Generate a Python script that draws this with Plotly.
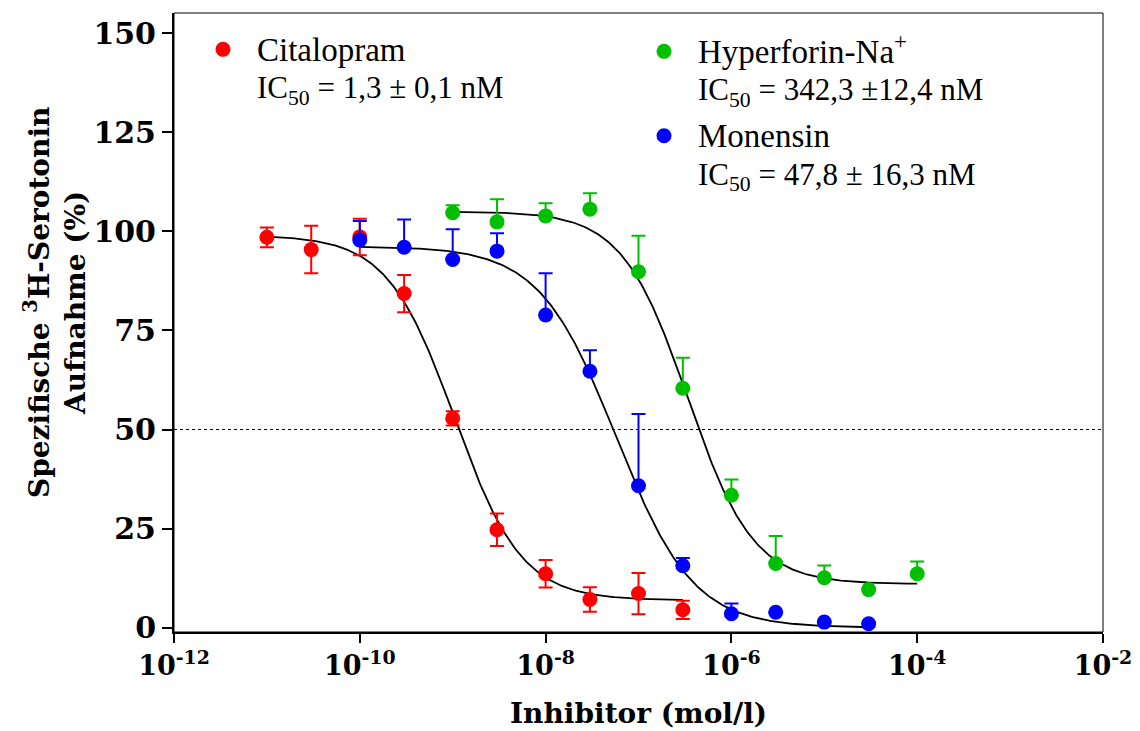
import numpy as np
import plotly.graph_objects as go

# ---------------- data ----------------
cit_conc = [1e-11, 3e-11, 1e-10, 3e-10, 1e-9, 3e-9, 1e-8, 3e-8, 1e-7, 3e-7]
cit_mean = [98.5, 95.4, 98.6, 84.3, 52.8, 24.7, 13.6, 7.1, 8.6, 4.5]
cit_err = [2.5, 6.0, 4.6, 4.7, 1.8, 4.1, 3.5, 3.1, 5.2, 2.3]

hyp_conc = [1e-9, 3e-9, 1e-8, 3e-8, 1e-7, 3e-7, 1e-6, 3e-6, 1e-5, 3e-5, 1e-4]
hyp_mean = [104.7, 102.4, 103.9, 105.6, 89.8, 60.4, 33.4, 16.2, 12.6, 9.6, 13.6]
hyp_err = [1.9, 5.7, 3.2, 4.0, 9.1, 7.7, 4.0, 6.9, 3.1, 0.0, 3.1]

mon_conc = [1e-10, 3e-10, 1e-9, 3e-9, 1e-8, 3e-8, 1e-7, 3e-7, 1e-6, 3e-6, 1e-5, 3e-5]
mon_mean = [97.8, 96.0, 92.9, 95.0, 78.9, 64.7, 35.8, 15.6, 3.5, 3.9, 1.4, 1.0]
mon_err = [4.8, 7.0, 7.6, 4.5, 10.5, 5.3, 18.1, 2.0, 2.6, 0.0, 0.0, 0.0]

# sigmoidal dose-response fit parameters: top, bottom, log IC50, Hill slope
cit_fit = [99.0, 6.9, -8.98, 1.2]
hyp_fit = [105.0, 11.0, -6.47, 1.23]
mon_fit = [96.2, 0.0, -7.24, 1.05]

x_tickvals = [1e-12, 1e-10, 1e-8, 1e-6, 1e-4, 1e-2]
x_ticktext = ["10<sup>-12</sup>", "10<sup>-10</sup>", "10<sup>-8</sup>",
              "10<sup>-6</sup>", "10<sup>-4</sup>", "10<sup>-2</sup>"]
y_tickvals = [0, 25, 50, 75, 100, 125, 150]
half_level = 50

titles = ["Citalopram", "Hyperforin-Na<sup>+</sup>", "Monensin"]
ic50_texts = ["IC<sub>50</sub> = 1,3 ± 0,1 nM",
              "IC<sub>50</sub> = 342,3 ±12,4 nM",
              "IC<sub>50</sub> = 47,8 ± 16,3 nM"]
colors = ["#FF0000", "#00BF00", "#0000FF"]

# ---------------- layout geometry ----------------
W, H = 1140, 731
L, R, T, B = 174, 37, 13, 99
PW, PH = W - L - R, H - T - B


def px_x(px):
    return (px - L) / PW


def px_y(py):
    return (H - B - py) / PH


def fit_curve(conc, p):
    top, bottom, logic50, hill = p
    lx = np.linspace(np.log10(min(conc)), np.log10(max(conc)), 300)
    y = bottom + (top - bottom) / (1 + 10 ** ((lx - logic50) * hill))
    return 10 ** lx, y


fig = go.Figure()

series = [
    (cit_conc, cit_mean, cit_err, cit_fit, "legend", True),
    (hyp_conc, hyp_mean, hyp_err, hyp_fit, "legend2", False),
    (mon_conc, mon_mean, mon_err, mon_fit, "legend2", False),
]

for conc, mean, err, fitp, lg, sym in series:
    cx, cy = fit_curve(conc, fitp)
    fig.add_trace(go.Scatter(x=cx, y=cy, mode="lines",
                             line=dict(color="black", width=1.8),
                             showlegend=False, hoverinfo="skip"))

for i, (conc, mean, err, fitp, lg, sym) in enumerate(series):
    ey = dict(type="data", array=err, visible=True, color=colors[i],
              thickness=2, width=7)
    if sym:
        ey["symmetric"] = True
    else:
        ey["symmetric"] = False
        ey["arrayminus"] = [0] * len(err)
    name = ("<span style='font-size:33px'>" + titles[i] + "</span><br>"
            "<span style='font-size:31px'>" + ic50_texts[i] + "</span>")
    fig.add_trace(go.Scatter(x=conc, y=mean, mode="markers", name=name,
                             marker=dict(color=colors[i], size=15),
                             error_y=ey, legend=lg, legendgroup=str(i)))

xfont = dict(family="DejaVu Serif", size=27, color="black", weight="bold")
yfont = dict(family="DejaVu Serif", size=30, color="black", weight="bold")
tfont = dict(family="DejaVu Serif", size=28, color="black", weight="bold")
lfont = dict(family="DejaVu Serif", size=28, color="black", weight="bold")

fig.update_layout(
    width=W, height=H,
    margin=dict(l=L, r=R, t=T, b=B),
    plot_bgcolor="white", paper_bgcolor="white",
    xaxis=dict(type="log", range=[-12, -2], tickmode="array",
               tickvals=x_tickvals, ticktext=x_ticktext, automargin=False,
               ticks="outside", ticklen=9, tickwidth=2, tickcolor="black",
               showline=True, linewidth=2, linecolor="black",
               showgrid=False, zeroline=False, tickfont=xfont),
    yaxis=dict(range=[-1.1, 155.1], tickmode="array", tickvals=y_tickvals,
               automargin=False,
               ticks="outside", ticklen=10, tickwidth=2, tickcolor="black",
               showline=True, linewidth=2, linecolor="black",
               showgrid=False, zeroline=False, tickfont=yfont),
    legend=dict(x=px_x(189), y=px_y(24), xanchor="left", yanchor="top",
                bgcolor="rgba(0,0,0,0)", valign="top", itemwidth=58,
                font=dict(family="Liberation Serif", size=29, color="black")),
    legend2=dict(x=px_x(630), y=px_y(26), xanchor="left", yanchor="top",
                 bgcolor="rgba(0,0,0,0)", valign="top", itemwidth=58,
                 tracegroupgap=6,
                 font=dict(family="Liberation Serif", size=29, color="black")),
    shapes=[
        dict(type="rect", xref="paper", yref="paper", x0=0, x1=1, y0=0, y1=1,
             line=dict(color="black", width=1), layer="below"),
        dict(type="line", xref="paper", yref="y", x0=0, x1=1,
             y0=half_level, y1=half_level,
             line=dict(color="black", width=1.2, dash="dot")),
    ],
    annotations=[
        dict(text="Spezifische <sup>3</sup>H-Serotonin<br>Aufnahme (%)",
             textangle=-90, xref="paper", yref="paper",
             x=px_x(55), y=px_y(303), xanchor="center", yanchor="middle",
             showarrow=False, font=lfont),
        dict(text="Inhibitor (mol/l)", xref="paper", yref="paper",
             x=0.5, y=px_y(713), xanchor="center", yanchor="middle",
             showarrow=False, font=tfont),
    ],
)

fig.write_html("out.html", config={"displayModeBar": False},
               post_script="document.body.style.margin='0';")
